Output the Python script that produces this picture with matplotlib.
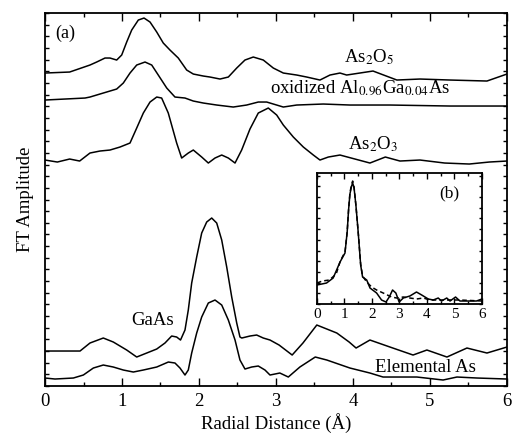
"""
FT amplitude of As K-edge EXAFS for reference compounds and oxidized AlGaAs,
with inset (b) comparing the oxide to a fit.
"""

import matplotlib
matplotlib.use("Agg")
import matplotlib.pyplot as plt
from matplotlib.ticker import MultipleLocator

plt.rcParams["font.family"] = ["Liberation Serif", "DejaVu Serif"]
plt.rcParams["mathtext.fontset"] = "stix"

# main panel (a): radial distance (A) and FT amplitude (arb. units, stacked)
r_as2o5 = [0.0, 0.32, 0.584, 0.671, 0.779, 0.844, 0.931, 0.996, 1.061, 1.126, 1.212, 1.286,
           1.364, 1.451, 1.536, 1.623, 1.731, 1.84, 1.926, 2.056, 2.143, 2.273, 2.381, 2.49,
           2.597, 2.705, 2.835, 2.965, 3.095, 3.269, 3.399, 3.571, 3.701, 3.831, 3.918,
           4.26, 4.57, 4.87, 5.26, 5.74, 6.0]
a_as2o5 = [313, 314, 321, 324, 328, 328, 326, 331, 344, 356, 366, 368,
           364, 354, 343, 336, 328, 316, 312, 310, 309, 307, 309, 318,
           326, 329, 326, 318, 313, 311, 309, 306, 311, 313, 311,
           315, 306, 307, 306, 305, 312]

r_oxide = [0.0, 0.52, 0.584, 0.757, 0.931, 1.017, 1.104, 1.191, 1.299, 1.386, 1.471, 1.581,
           1.688, 1.818, 1.926, 2.056, 2.23, 2.445, 2.619, 2.77, 2.879, 3.095, 3.269, 3.614,
           3.961, 4.481, 5.26, 6.0]
a_oxide = [286, 288, 289, 293, 297, 303, 313, 321, 324, 321, 311, 298,
           289, 288, 285, 283, 281, 279, 281, 284, 284, 279, 281, 282,
           281, 281, 280, 280]

r_as2o3 = [0.0, 0.16, 0.32, 0.45, 0.584, 0.714, 0.844, 0.974, 1.104, 1.191, 1.277, 1.364,
           1.451, 1.515, 1.601, 1.71, 1.775, 1.861, 1.926, 2.035, 2.121, 2.208, 2.295, 2.381,
           2.468, 2.554, 2.662, 2.77, 2.9, 3.009, 3.095, 3.225, 3.355, 3.485, 3.571, 3.68,
           3.831, 4.22, 4.42, 4.61, 4.87, 5.19, 5.51, 5.77, 6.0]
a_as2o3 = [226, 224, 227, 225, 233, 235, 236, 239, 243, 258, 273, 284,
           289, 288, 273, 243, 228, 233, 236, 229, 223, 228, 231, 228,
           223, 236, 257, 273, 278, 271, 261, 249, 239, 231, 226, 229,
           231, 223, 229, 225, 226, 223, 222, 224, 225]

r_gaas = [0.0, 0.455, 0.584, 0.757, 0.887, 1.061, 1.191, 1.321, 1.451, 1.558, 1.645, 1.71,
          1.76, 1.818, 1.861, 1.905, 1.97, 2.035, 2.1, 2.165, 2.23, 2.295, 2.36, 2.425,
          2.49, 2.532, 2.556, 2.662, 2.749, 2.835, 2.922, 3.04, 3.21, 3.35, 3.53, 3.79,
          3.95, 4.04, 4.22, 4.48, 4.78, 4.96, 5.22, 5.48, 5.74, 6.0]
a_gaas = [35, 35, 43, 48, 44, 36, 29, 33, 37, 43, 50, 49,
          46, 56, 76, 103, 129, 153, 164, 168, 163, 146, 119, 89,
          63, 49, 48, 50, 51, 48, 46, 41, 31, 43, 61, 53,
          44, 38, 46, 39, 31, 36, 29, 38, 33, 39]

r_elem = [0.0, 0.13, 0.368, 0.498, 0.628, 0.757, 0.887, 1.017, 1.147, 1.277, 1.451, 1.602,
          1.688, 1.753, 1.818, 1.861, 1.905, 1.97, 2.035, 2.121, 2.208, 2.295, 2.381, 2.468,
          2.532, 2.597, 2.684, 2.77, 2.857, 2.922, 3.05, 3.16, 3.31, 3.51, 3.66, 3.96,
          4.22, 4.39, 4.83, 5.17, 5.35, 5.61, 6.0]
a_elem = [8, 7, 8, 11, 18, 21, 19, 16, 14, 16, 19, 24,
          23, 18, 11, 16, 33, 53, 69, 83, 86, 81, 66, 46,
          26, 17, 19, 20, 16, 11, 13, 9, 19, 29, 26, 18,
          13, 9, 9, 6, 9, 8, 7]

# inset (b): oxide data (solid) and fit (dashed)
r_inset = [0.0, 0.35, 0.59, 0.84, 1.02, 1.1, 1.15, 1.2, 1.26, 1.3, 1.35, 1.42, 1.5, 1.59,
           1.66, 1.81, 1.93, 2.17, 2.35, 2.51, 2.63, 2.75, 2.87, 2.99, 3.14, 3.38, 3.62,
           3.81, 4.05, 4.23, 4.41, 4.53, 4.72, 4.84, 5.04, 5.2, 5.44, 5.8, 6.0]
a_inset = [19, 21, 26, 42, 51, 72, 94, 110, 118, 121, 116, 98, 72, 39,
           27, 24, 16, 11, 4, 2, 7, 14, 11, 2, 6, 8, 12,
           9, 5, 4, 6, 3, 6, 3, 7, 3, 3, 3, 5]

r_fit = [0.0, 0.2, 0.45, 0.7, 0.85, 1.02, 1.1, 1.15, 1.2, 1.26, 1.3, 1.35, 1.42, 1.5,
         1.59, 1.66, 1.81, 1.99, 2.17, 2.41, 2.71, 2.9, 3.14, 3.38, 3.62, 3.87, 4.11, 4.6,
         5.2, 6.0]
a_fit = [21, 23, 24, 30, 43, 52, 72, 94, 111, 120, 123, 117, 98, 72,
         40, 28, 22, 17, 14, 11, 7, 6, 7, 6, 5, 6, 4, 4,
         4, 3]

LW = 1.1


def style_axes(ax, ytick_step, major_len, minor_len):
    ax.xaxis.set_major_locator(MultipleLocator(1))
    ax.xaxis.set_minor_locator(MultipleLocator(0.5))
    ax.yaxis.set_major_locator(MultipleLocator(ytick_step))
    ax.tick_params(which="both", direction="in", top=True, right=True, width=1.0)
    ax.tick_params(axis="x", which="major", length=major_len)
    ax.tick_params(axis="x", which="minor", length=minor_len)
    ax.tick_params(axis="y", which="major", length=minor_len, labelleft=False)
    for s in ax.spines.values():
        s.set_linewidth(1.3)


def main():
    fig = plt.figure(figsize=(5.12, 4.33), dpi=100)
    ax = fig.add_axes([0.0879, 0.1085, 0.9023, 0.8614])

    for r, a in [(r_as2o5, a_as2o5), (r_oxide, a_oxide), (r_as2o3, a_as2o3),
                 (r_gaas, a_gaas), (r_elem, a_elem)]:
        ax.plot(r, a, color="black", lw=LW, solid_joinstyle="round")

    ax.set_xlim(0, 6)
    ax.set_ylim(0, 373)
    style_axes(ax, 373 / 32, 6, 3)
    ax.tick_params(axis="x", labelsize=13.5, pad=5)
    ax.set_xlabel("Radial Distance (Å)", fontsize=13.5, labelpad=2)
    ax.set_ylabel("FT Amplitude", fontsize=13.5, labelpad=8)

    ax.text(0.13, 353, "(a)", fontsize=13, va="center")
    ax.text(3.88, 329, r"As$_2$O$_5$", fontsize=13.5, va="center")
    ax.text(2.92, 298, r"oxidized Al$_{0.96}$Ga$_{0.04}$As", fontsize=13.5, va="center")
    ax.text(3.93, 242, r"As$_2$O$_3$", fontsize=13.5, va="center")
    ax.text(1.12, 66, "GaAs", fontsize=13.5, va="center")
    ax.text(4.28, 19, "Elemental As", fontsize=13.5, va="center")

    ins = fig.add_axes([0.619, 0.2979, 0.3223, 0.3025])
    ins.plot(r_inset, a_inset, color="black", lw=LW, solid_joinstyle="round")
    ins.plot(r_fit, a_fit, color="black", lw=LW, ls=(0, (3, 2)))
    ins.set_xlim(0, 6)
    ins.set_ylim(0, 131)
    style_axes(ins, 10.7, 4, 2.5)
    ins.tick_params(axis="x", labelsize=11, pad=3)
    ins.text(4.45, 111, "(b)", fontsize=12.5, va="center")

    fig.savefig("out.png", dpi=100)


if __name__ == "__main__":
    main()
